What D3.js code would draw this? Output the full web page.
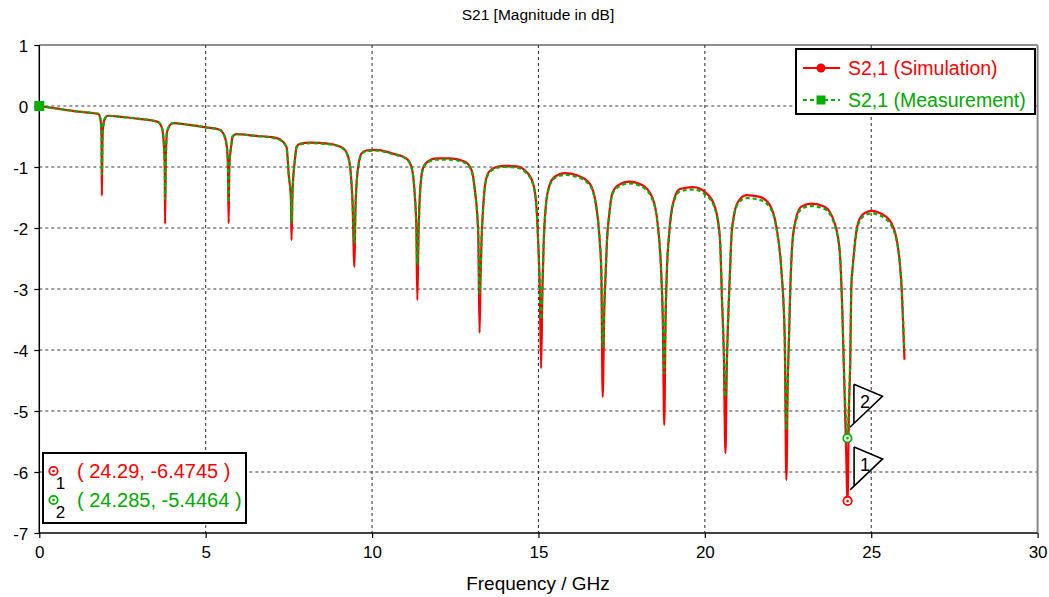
<!DOCTYPE html>
<html>
<head>
<meta charset="utf-8">
<script src="https://cdn.jsdelivr.net/npm/d3@7"></script>
<style>
  html, body { margin: 0; padding: 0; background: #fff; }
  svg { display: block; }
  text { font-family: "Liberation Sans", Arial, sans-serif; }
</style>
</head>
<body>
<svg id="chart" width="1049" height="597"></svg>
<script>
// ---------------- DATA ----------------
const chartTitle = "S21 [Magnitude in dB]";
const xLabel = "Frequency / GHz";
const xTicks = [0, 5, 10, 15, 20, 25, 30];
const yTicks = [1, 0, -1, -2, -3, -4, -5, -6, -7];
const seriesNames = ["S2,1 (Simulation)", "S2,1 (Measurement)"];

// Simulation: [frequency GHz, dB]
const simPoints = [
  [0,0],[0.5,-0.04],[1.0,-0.08],[1.5,-0.11],[1.77,-0.13],[1.84,-0.22],[1.87,-0.5],[1.88,-1.47],[1.90,-0.5],[1.94,-0.26],[2.0,-0.18],[2.06,-0.16],
  [2.5,-0.18],[3.0,-0.21],[3.56,-0.26],[3.68,-0.35],[3.74,-0.6],[3.77,-1.0],[3.78,-1.93],[3.80,-0.9],[3.84,-0.42],[3.92,-0.32],[4.01,-0.28],
  [4.5,-0.31],[5.0,-0.35],[5.42,-0.39],[5.57,-0.5],[5.64,-0.69],[5.67,-1.0],[5.69,-1.92],[5.71,-1.0],[5.77,-0.64],[5.81,-0.5],[5.92,-0.46],
  [6.5,-0.49],[7.0,-0.51],[7.24,-0.55],[7.43,-0.67],[7.5,-1.16],[7.56,-1.5],[7.58,-2.2],[7.61,-1.4],[7.68,-0.89],[7.73,-0.67],[7.83,-0.62],[8.13,-0.6],
  [8.73,-0.62],[9.13,-0.69],[9.28,-0.83],[9.36,-1.1],[9.41,-1.54],[9.47,-2.64],[9.5,-1.7],[9.55,-1.16],[9.6,-0.94],[9.68,-0.78],[9.83,-0.73],[10.13,-0.72],
  [10.63,-0.78],[11.03,-0.86],[11.18,-0.99],[11.28,-1.43],[11.33,-1.98],[11.36,-3.18],[11.4,-2.0],[11.43,-1.54],[11.48,-1.16],[11.55,-0.99],[11.68,-0.91],[11.93,-0.86],[12.33,-0.86],
  [12.78,-0.91],[12.99,-1.05],[13.09,-1.38],[13.19,-2.08],[13.23,-3.72],[13.26,-2.8],[13.29,-2.2],[13.34,-1.65],[13.39,-1.32],[13.49,-1.1],[13.64,-1.02],[13.94,-0.98],[14.34,-0.99],
  [14.64,-1.08],[14.84,-1.27],[14.94,-1.65],[14.99,-2.2],[15.04,-3.0],[15.08,-4.3],[15.12,-3.0],[15.16,-2.2],[15.22,-1.65],[15.32,-1.32],[15.49,-1.16],[15.79,-1.1],[16.14,-1.13],
  [16.54,-1.27],[16.74,-1.65],[16.84,-2.2],[16.89,-2.74],[16.93,-4.77],[16.98,-3.3],[17.02,-2.74],[17.06,-2.2],[17.12,-1.81],[17.22,-1.43],[17.39,-1.3],[17.73,-1.24],[18.13,-1.3],
  [18.43,-1.51],[18.58,-1.92],[18.69,-2.74],[18.74,-3.6],[18.78,-5.23],[18.82,-3.5],[18.86,-2.69],[18.92,-2.14],[18.99,-1.76],[19.1,-1.49],[19.25,-1.36],[19.65,-1.33],[20.05,-1.43],
  [20.3,-1.65],[20.45,-2.14],[20.52,-3.23],[20.57,-4.05],[20.62,-5.69],[20.66,-4.3],[20.7,-3.51],[20.75,-2.8],[20.8,-2.14],[20.87,-1.81],[21.0,-1.57],[21.25,-1.46],[21.65,-1.49],
  [21.95,-1.62],[22.15,-1.98],[22.3,-2.69],[22.4,-3.78],[22.45,-6.13],[22.49,-4.6],[22.53,-3.78],[22.57,-2.96],[22.63,-2.25],[22.73,-1.87],[22.9,-1.65],[23.2,-1.6],[23.6,-1.65],
  [23.9,-1.92],[24.05,-2.36],[24.13,-3.34],[24.18,-4.33],[24.24,-5.5],[24.29,-6.4745],[24.33,-5.0],[24.37,-4.2],[24.40,-3.0],[24.45,-2.6],[24.5,-2.3],[24.57,-2.0],[24.66,-1.84],
  [24.82,-1.75],[25.03,-1.72],[25.24,-1.75],[25.41,-1.8],[25.56,-1.88],[25.66,-1.98],[25.76,-2.17],[25.83,-2.42],[25.88,-2.72],[25.92,-3.05],[25.95,-3.45],[25.98,-3.9],[26.0,-4.16]
];

// Measurement: [frequency GHz, dB]
const measPoints = [
  [0,0],[0.5,-0.04],[1.0,-0.08],[1.5,-0.11],[1.77,-0.13],[1.84,-0.22],[1.87,-0.5],[1.88,-1.12],[1.90,-0.5],[1.94,-0.26],[2.0,-0.18],[2.06,-0.16],
  [2.5,-0.18],[3.0,-0.21],[3.56,-0.26],[3.68,-0.35],[3.74,-0.6],[3.77,-0.95],[3.78,-1.52],[3.80,-0.9],[3.84,-0.42],[3.92,-0.32],[4.01,-0.28],
  [4.5,-0.31],[5.0,-0.35],[5.42,-0.39],[5.57,-0.5],[5.64,-0.69],[5.67,-1.0],[5.69,-1.58],[5.71,-1.0],[5.77,-0.64],[5.81,-0.5],[5.92,-0.46],
  [6.5,-0.49],[7.0,-0.52],[7.24,-0.56],[7.43,-0.68],[7.5,-1.16],[7.56,-1.45],[7.58,-1.92],[7.61,-1.4],[7.68,-0.89],[7.73,-0.68],[7.83,-0.63],[8.13,-0.61],
  [8.73,-0.63],[9.13,-0.7],[9.28,-0.84],[9.36,-1.1],[9.41,-1.54],[9.47,-2.25],[9.5,-1.7],[9.55,-1.17],[9.6,-0.95],[9.68,-0.79],[9.83,-0.74],[10.13,-0.73],
  [10.63,-0.79],[11.03,-0.87],[11.18,-1.0],[11.28,-1.43],[11.33,-1.98],[11.36,-2.6],[11.4,-2.0],[11.43,-1.54],[11.48,-1.17],[11.55,-1.0],[11.68,-0.92],[11.93,-0.88],[12.33,-0.88],
  [12.78,-0.93],[12.99,-1.07],[13.09,-1.39],[13.19,-2.08],[13.23,-3.07],[13.26,-2.75],[13.29,-2.2],[13.34,-1.66],[13.39,-1.34],[13.49,-1.12],[13.64,-1.04],[13.94,-1.0],[14.34,-1.01],
  [14.64,-1.1],[14.84,-1.29],[14.94,-1.66],[14.99,-2.2],[15.04,-2.95],[15.08,-3.5],[15.12,-2.95],[15.16,-2.2],[15.22,-1.66],[15.32,-1.34],[15.49,-1.18],[15.79,-1.13],[16.14,-1.16],
  [16.54,-1.3],[16.74,-1.67],[16.84,-2.2],[16.89,-2.74],[16.93,-3.95],[16.98,-3.25],[17.02,-2.74],[17.06,-2.2],[17.12,-1.82],[17.22,-1.45],[17.39,-1.33],[17.73,-1.27],[18.13,-1.33],
  [18.43,-1.54],[18.58,-1.94],[18.69,-2.74],[18.74,-3.5],[18.78,-4.38],[18.82,-3.45],[18.86,-2.69],[18.92,-2.15],[18.99,-1.78],[19.1,-1.52],[19.25,-1.4],[19.65,-1.37],[20.05,-1.47],
  [20.3,-1.68],[20.45,-2.15],[20.52,-3.23],[20.57,-4.0],[20.62,-4.77],[20.66,-4.2],[20.7,-3.51],[20.75,-2.8],[20.8,-2.15],[20.87,-1.83],[21.0,-1.6],[21.25,-1.51],[21.65,-1.54],
  [21.95,-1.66],[22.15,-2.0],[22.3,-2.69],[22.4,-3.78],[22.45,-5.31],[22.49,-4.5],[22.53,-3.78],[22.57,-2.96],[22.63,-2.27],[22.73,-1.9],[22.9,-1.69],[23.2,-1.64],[23.6,-1.69],
  [23.9,-1.95],[24.05,-2.38],[24.13,-3.34],[24.18,-4.3],[24.24,-5.1],[24.285,-5.4464],[24.33,-4.8],[24.37,-4.1],[24.40,-3.0],[24.45,-2.62],[24.5,-2.33],[24.57,-2.03],[24.66,-1.88],
  [24.82,-1.79],[25.03,-1.76],[25.24,-1.79],[25.41,-1.84],[25.56,-1.92],[25.66,-2.02],[25.76,-2.2],[25.83,-2.43],[25.88,-2.7],[25.92,-3.0],[25.95,-3.38],[25.98,-3.78],[26.0,-4.0]
];

// Markers
const markerIds = ["1", "2"];
const markerFreq = [24.29, 24.285];
const markerDb = [-6.4745, -5.4464];
const markerSeries = [0, 1];
const markerLabels = ["( 24.29, -6.4745 )", "( 24.285, -5.4464 )"];

(function () {
// ---------------- LAYOUT ----------------
const colors = ["#ff0000", "#00b000"];
const textColors = ["#ff0000", "#00a800"];
const pL = 39.3, pR = 1037.6, pT = 45, pB = 533;

const svg = d3.select("#chart");
svg.append("rect").attr("width", 1049).attr("height", 597).attr("fill", "#fff");

const x = d3.scaleLinear().domain([0, 30]).range([pL, pR]);
const y = d3.scaleLinear().domain([-7, 1]).range([pB, pT]);

// grid
const grid = svg.append("g").attr("class", "grid");
grid.selectAll("line.vg").data(xTicks.filter(t => t > 0 && t < 30)).enter().append("line")
  .attr("x1", d => x(d)).attr("x2", d => x(d)).attr("y1", pT).attr("y2", pB)
  .attr("stroke", "#3a3a3a").attr("stroke-width", 1.1).attr("stroke-dasharray", "3,3");
grid.selectAll("line.hg").data(yTicks.filter(t => t < 1 && t > -7)).enter().append("line")
  .attr("y1", d => y(d)).attr("y2", d => y(d)).attr("x1", pL).attr("x2", pR)
  .attr("stroke", "#3a3a3a").attr("stroke-width", 1.1).attr("stroke-dasharray", "3,3");

// axes
const fmt = d => String(d);
const xAxis = d3.axisBottom(x).tickValues(xTicks).tickSize(5).tickFormat(fmt);
const yAxis = d3.axisLeft(y).tickValues(yTicks).tickSize(5).tickFormat(fmt);
const gx = svg.append("g").attr("transform", `translate(0,${pB})`).call(xAxis);
const gy = svg.append("g").attr("transform", `translate(${pL},0)`).call(yAxis);
[gx, gy].forEach(g => {
  g.select(".domain").remove();
  g.selectAll(".tick line").attr("stroke", "#000").attr("stroke-width", 1.2);
  g.selectAll(".tick text").attr("fill", "#000").style("font-size", "17px")
    .style("font-family", "'Liberation Sans', Arial, sans-serif");
});
gx.selectAll(".tick text").attr("dy", null).attr("y", 25);
gy.selectAll(".tick text").attr("dy", "0.36em").attr("x", -11);

// frame
svg.append("line").attr("x1", pL).attr("x2", pR).attr("y1", pT).attr("y2", pT).attr("stroke", "#222").attr("stroke-width", 1.2);
svg.append("line").attr("x1", pR).attr("x2", pR).attr("y1", pT).attr("y2", pB).attr("stroke", "#888").attr("stroke-width", 2);
svg.append("line").attr("x1", pL).attr("x2", pR).attr("y1", pB).attr("y2", pB).attr("stroke", "#000").attr("stroke-width", 1.5);
svg.append("line").attr("x1", pL).attr("x2", pL).attr("y1", pT).attr("y2", pB).attr("stroke", "#000").attr("stroke-width", 1.5);

// curves
const line = d3.line().x(d => x(d[0])).y(d => y(d[1])).curve(d3.curveMonotoneX);
const plot = svg.append("g");
plot.append("path").datum(simPoints).attr("d", line).attr("fill", "none")
  .attr("stroke", colors[0]).attr("stroke-width", 2.2);
plot.append("path").datum(measPoints).attr("d", line).attr("fill", "none")
  .attr("stroke", colors[1]).attr("stroke-width", 2.2).attr("stroke-dasharray", "4,3");

// start symbols
plot.append("circle").attr("cx", x(simPoints[0][0])).attr("cy", y(simPoints[0][1])).attr("r", 4).attr("fill", colors[0]);
plot.append("rect").attr("x", x(measPoints[0][0]) - 5).attr("y", y(measPoints[0][1]) - 5)
  .attr("width", 10).attr("height", 10).attr("fill", colors[1]);

// title
svg.append("text").attr("x", 538).attr("y", 20).attr("text-anchor", "middle")
  .style("font-size", "15.5px").attr("fill", "#000").text(chartTitle);
// x label
svg.append("text").attr("x", 538).attr("y", 590).attr("text-anchor", "middle")
  .style("font-size", "19px").attr("fill", "#000").text(xLabel);

// marker flags on curve
function targetMarker(g, cx, cy, col) {
  g.append("circle").attr("cx", cx).attr("cy", cy).attr("r", 4.2).attr("fill", "#fff")
    .attr("stroke", col).attr("stroke-width", 1.8);
  g.append("circle").attr("cx", cx).attr("cy", cy).attr("r", 1.3).attr("fill", col);
}
markerIds.forEach((id, i) => {
  const mx = x(markerFreq[i]), my = y(markerDb[i]);
  const g = svg.append("g");
  g.append("path")
    .attr("d", `M${mx + 6.5},${my - 54} L${mx + 35},${my - 42} L${mx + 2.5},${my - 11} M${mx + 6.5},${my - 54} L${mx + 6.5},${my - 14.8}`)
    .attr("fill", "#fff").attr("stroke", "#000").attr("stroke-width", 1.6);
  g.append("text").attr("x", mx + 17.5).attr("y", my - 30).attr("text-anchor", "middle")
    .style("font-size", "18px").attr("fill", "#000").text(id);
  targetMarker(g, mx, my, colors[markerSeries[i]]);
});

// legend
const lg = svg.append("g");
lg.append("rect").attr("x", 796).attr("y", 49).attr("width", 239).attr("height", 65)
  .attr("fill", "#fff").attr("stroke", "#000").attr("stroke-width", 2);
const legRows = [68, 100];
seriesNames.forEach((name, i) => {
  const ry = legRows[i];
  const ln = lg.append("line").attr("x1", 803).attr("x2", 840).attr("y1", ry).attr("y2", ry)
    .attr("stroke", colors[i]).attr("stroke-width", 2);
  if (i === 1) ln.attr("stroke-dasharray", "4,3");
  if (i === 0) lg.append("circle").attr("cx", 821).attr("cy", ry).attr("r", 4.5).attr("fill", colors[i]);
  else lg.append("rect").attr("x", 816.5).attr("y", ry - 4.5).attr("width", 9).attr("height", 9).attr("fill", colors[i]);
  lg.append("text").attr("x", 848).attr("y", ry + 7).style("font-size", "19.5px")
    .attr("fill", textColors[i]).text(name);
});

// marker readout box
const mb = svg.append("g");
mb.append("rect").attr("x", 43).attr("y", 453).attr("width", 203).attr("height", 70)
  .attr("fill", "#fff").attr("stroke", "#000").attr("stroke-width", 2);
const mbRows = [471, 500];
markerIds.forEach((id, i) => {
  const ry = mbRows[i];
  targetMarker(mb, 53.5, ry, colors[markerSeries[i]]);
  mb.append("text").attr("x", 60.5).attr("y", ry + 18).attr("text-anchor", "middle")
    .style("font-size", "17px").attr("fill", "#000").text(id);
  mb.append("text").attr("x", 77).attr("y", ry + 7).style("font-size", "20px")
    .attr("fill", textColors[markerSeries[i]]).text(markerLabels[i]);
});
})();
</script>
</body>
</html>
